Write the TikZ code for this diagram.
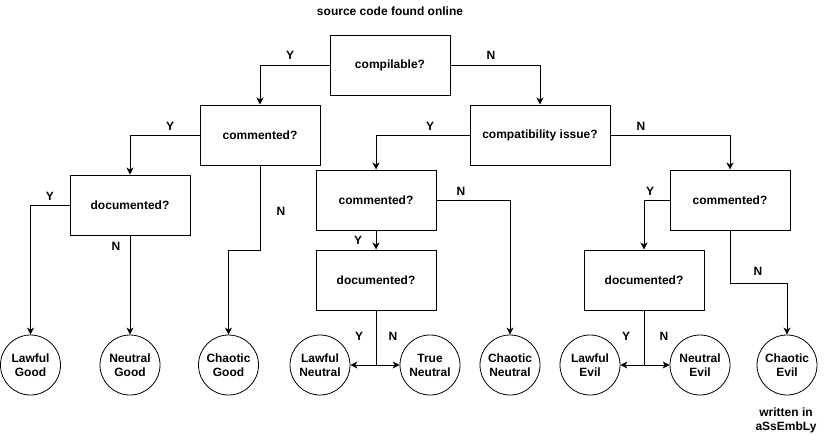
\documentclass[tikz,border=0pt]{standalone}
\usepackage{fontspec}
\setmainfont{Liberation Sans}
\usetikzlibrary{arrows.meta}

\tikzset{
  question/.style={draw, line width=1pt, minimum width=120pt, minimum height=60pt, inner sep=0pt, font=\bfseries\fontsize{12}{14}\selectfont},
  alignment/.style={draw, circle, line width=0.8pt, minimum size=60pt, inner sep=0pt, align=center, font=\bfseries\fontsize{12}{14}\selectfont},
  answer/.style={inner sep=0pt, font=\bfseries\fontsize{12}{14}\selectfont},
  arr/.style={line width=1pt, -{Stealth[length=7pt,width=7pt,inset=2pt]}},
  ln/.style={line width=1pt}
}

\begin{document}
\begin{tikzpicture}[x=1pt,y=-1pt]
  \useasboundingbox (0,0) rectangle (824,434);
  \node[answer] (title) at (390,11) {source code found online};

  % questions
  \node[question] (compilable) at (390,65) {compilable?};
  \node[question] (commentedL) at (260,135) {commented?};
  \node[question, minimum width=140pt] (compat) at (540,135) {compatibility issue?};
  \node[question] (documentedL) at (130,205) {documented?};
  \node[question] (commentedM) at (376,200) {commented?};
  \node[question] (commentedR) at (730,200) {commented?};
  \node[question] (documentedM) at (376,280) {documented?};
  \node[question] (documentedR) at (644,280) {documented?};

  % alignments
  \node[alignment] (lg) at (30.5,365) {Lawful\\Good};
  \node[alignment] (ng) at (130,365) {Neutral\\Good};
  \node[alignment] (cg) at (228.5,365) {Chaotic\\Good};
  \node[alignment] (lneu) at (320,365) {Lawful\\Neutral};
  \node[alignment] (tn) at (430,365) {True\\Neutral};
  \node[alignment] (cn) at (510,365) {Chaotic\\Neutral};
  \node[alignment] (le) at (590,365) {Lawful\\Evil};
  \node[alignment] (ne) at (700,365) {Neutral\\Evil};
  \node[alignment] (ce) at (787,365) {Chaotic\\Evil};
  \node[answer, align=center] (asm) at (786,420.5) {written in\\aSsEmbLy};

  % connectors
  \draw[arr] (compilable.west) -| (commentedL.north);
  \draw[arr] (compilable.east) -| (compat.north);
  \draw[arr] (commentedL.west) -| (documentedL.north);
  \draw[arr] (compat.west) -| (commentedM.north);
  \draw[arr] (compat.east) -| (commentedR.north);
  \draw[arr] (documentedL.west) -| (lg.north);
  \draw[arr] (documentedL.south) -- (ng.north);
  \draw[arr] (commentedL.south) -- (commentedL.south |- 0,250.5) -| (cg.north);
  \draw[arr] (commentedM.east) -| (cn.north);
  \draw[arr] (commentedM.south) -- (documentedM.north);
  \draw[arr] (commentedR.west) -| (documentedR.north);
  \draw[arr] (commentedR.south) -- (commentedR.south |- 0,283) -| (ce.north);

  \coordinate (splitM) at (documentedM.south |- lneu.east);
  \draw[ln] (documentedM.south) -- (splitM);
  \draw[arr] (splitM) -- (lneu.east);
  \draw[arr] (splitM) -- (tn.west);
  \coordinate (splitR) at (documentedR.south |- le.east);
  \draw[ln] (documentedR.south) -- (splitR);
  \draw[arr] (splitR) -- (le.east);
  \draw[arr] (splitR) -- (ne.west);

  % Y / N
  \node[answer] (y1) at (290,55) {Y};
  \node[answer] (n1) at (491,55) {N};
  \node[answer] (y2) at (170,126) {Y};
  \node[answer] (y3) at (430,126) {Y};
  \node[answer] (n3) at (641,126) {N};
  \node[answer] (y4) at (50,196) {Y};
  \node[answer] (n4) at (116,246) {N};
  \node[answer] (n2) at (281,211) {N};
  \node[answer] (n5) at (461,191) {N};
  \node[answer] (y5) at (358,240) {Y};
  \node[answer] (y6) at (650,191) {Y};
  \node[answer] (n6) at (758,271) {N};
  \node[answer] (y7) at (359,336) {Y};
  \node[answer] (n7) at (393,336) {N};
  \node[answer] (y8) at (626,336) {Y};
  \node[answer] (n8) at (664,336) {N};
\end{tikzpicture}
\end{document}
